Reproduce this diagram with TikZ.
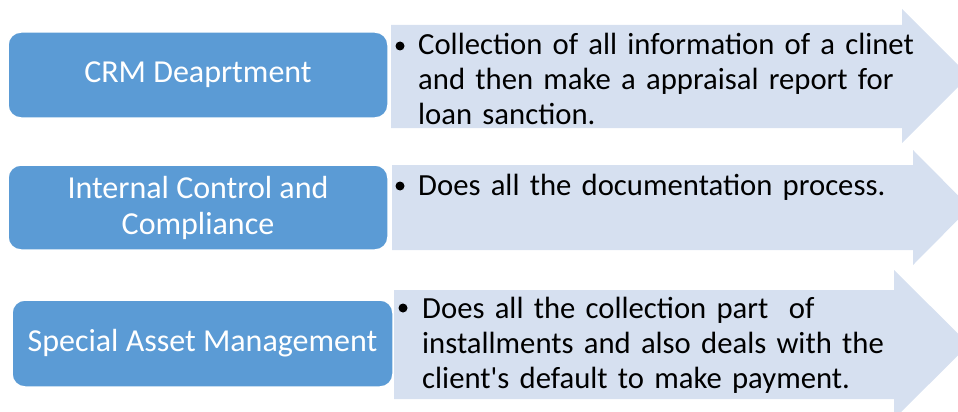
\documentclass[tikz,border=0pt]{standalone}
\usepackage{fontspec}
\setmainfont{Carlito}
\usetikzlibrary{positioning}

\definecolor{deptblue}{RGB}{91,155,213}
\definecolor{notefill}{RGB}{214,224,240}

\tikzset{
  dept/.style={rounded corners=13pt, fill=deptblue, draw=white, line width=1.5pt,
    text=white, align=center, inner sep=0pt, font=\fontsize{32}{36}\selectfont},
  notearrow/.style={fill=notefill, draw=none},
  note/.style={anchor=base west, align=left, inner sep=0pt, text width=540pt,
    font=\fontsize{30.7}{35}\selectfont},
  dot/.style={circle, fill=black, inner sep=0pt, minimum size=9pt}
}

\begin{document}
\begin{tikzpicture}[x=1pt,y=1pt,yscale=-1]
\useasboundingbox (0,0) rectangle (958,412);
\clip (0,0) rectangle (958,412);

%Arrows behind the text
\fill[notearrow] (391,25) -- (902,25) -- (902,9) -- (969,76) -- (902,143) -- (902,128) -- (391,128) -- cycle;
\fill[notearrow] (392,165) -- (913,165) -- (913,150) -- (970,207.5) -- (913,265) -- (913,250) -- (392,250) -- cycle;
\fill[notearrow] (394,290) -- (894,290) -- (894,270) -- (969,344.5) -- (894,419) -- (894,399) -- (394,399) -- cycle;

%Departments
\node[dept, minimum width=380pt, minimum height=86pt] (crm) at (198,75) {CRM Deaprtment};
\node[dept, minimum width=380pt, minimum height=85pt] (icc) at (198,207.5) {Internal Control and\\Compliance};
\node[dept, minimum width=381pt, minimum height=87pt] (sam) at (202.5,343.5) {Special Asset Management};

%Duties
\node[note] (crmnote) at (418,55) {Collection of all information of a clinet\\and then make a appraisal report for\\loan sanction.};
\node[note] (iccnote) at (418,195) {Does all the documentation process.};
\node[note] (samnote) at (422,318) {Does all the collection part\ \ of\\installments and also deals with the\\client\textquotesingle s default to make payment.};
\node[dot] (crmdot) at (400,46) {};
\node[dot] (iccdot) at (400,186) {};
\node[dot] (samdot) at (403,308) {};
\end{tikzpicture}
\end{document}
